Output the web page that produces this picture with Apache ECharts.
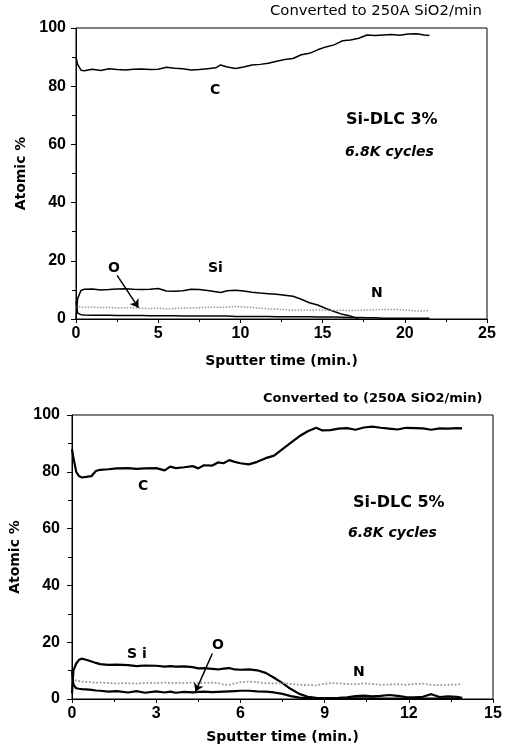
<!DOCTYPE html>
<html>
<head>
<meta charset="utf-8">
<script src="https://cdn.jsdelivr.net/npm/echarts@6/dist/echarts.min.js"></script>
<style>
  html, body { margin: 0; padding: 0; background: #fff; }
  #chart { width: 507px; height: 747px; }
</style>
</head>
<body>
<div id="chart"></div>
<script>
// top panel: Si-DLC 3%
var time3 = [0, 0.1, 0.3, 0.5, 1, 1.5, 2, 2.5, 3, 3.5, 4, 4.5, 5, 5.5, 6, 6.5, 7, 7.5, 8, 8.5,
             8.8, 9.2, 9.7, 10.2, 10.7, 11.2, 11.7, 12.2, 12.7, 13.2, 13.7, 14.2, 14.7, 15.2, 15.7,
             16.2, 16.7, 17.2, 17.7, 18.2, 18.7, 19.2, 19.7, 20.2, 20.7, 21.2, 21.5];
var c3 = [90, 87.5, 85.5, 85.3, 85.8, 85.4, 86, 85.7, 85.6, 85.8, 85.9, 85.7, 85.8, 86.5, 86.2, 86, 85.6, 85.7, 86, 86.3,
          87.3, 86.6, 86.1, 86.6, 87.3, 87.5, 87.9, 88.6, 89.2, 89.5, 90.8, 91.3, 92.5, 93.5, 94.2,
          95.6, 95.9, 96.5, 97.6, 97.4, 97.6, 97.8, 97.5, 97.9, 98, 97.6, 97.4];
var si3 = [0, 7, 9.8, 10.2, 10.3, 10, 10.1, 10.3, 10.4, 10.2, 10.1, 10.2, 10.5, 9.6, 9.5, 9.7, 10.2, 10.1, 9.8, 9.4,
           9.1, 9.7, 9.9, 9.6, 9.2, 8.9, 8.7, 8.5, 8.2, 7.8, 6.8, 5.6, 4.8, 3.6, 2.6,
           1.6, 1.0, 0.1, null, null, null, null, null, null, null, null, null];
var n3 = [4.5, 4.2, 4.1, 4, 4.1, 3.9, 4, 3.8, 3.9, 3.8, 3.7, 3.6, 3.7, 3.5, 3.6, 3.7, 3.8, 3.9, 4.0, 4.1,
          4.0, 4.1, 4.3, 4.1, 4.0, 3.7, 3.5, 3.4, 3.2, 3.0, 3.1, 3.0, 3.1, 3.0, 2.9,
          3.0, 2.9, 3.0, 3.1, 3.2, 3.3, 3.3, 3.2, 3.0, 2.7, 2.8, 2.9];
var o3 = [6, 2, 1.5, 1.4, 1.3, 1.3, 1.3, 1.2, 1.2, 1.2, 1.2, 1.1, 1.1, 1.1, 1.1, 1.0, 1.0, 1.0, 1.0, 1.0,
          1.0, 1.0, 0.9, 0.9, 0.9, 0.9, 0.9, 0.8, 0.8, 0.8, 0.8, 0.8, 0.7, 0.7, 0.7,
          0.6, 0.5, 0.5, 0.4, 0.4, 0.3, 0.3, 0.3, 0.3, 0.3, 0.3, 0.3];

// bottom panel: Si-DLC 5%
var time5 = [0, 0.05, 0.15, 0.25, 0.35, 0.5, 0.7, 0.85, 1, 1.3, 1.6, 2, 2.3, 2.6, 3, 3.3, 3.5, 3.7, 4, 4.3,
             4.5, 4.7, 5, 5.2, 5.4, 5.6, 5.8, 6, 6.3, 6.6, 6.9, 7.2, 7.5, 7.8, 8.1, 8.4, 8.7, 8.9,
             9.2, 9.5, 9.8, 10.1, 10.4, 10.7, 11, 11.3, 11.6, 11.9, 12.2, 12.5, 12.8, 13.1, 13.4, 13.7, 13.9];
var c5 = [88, 85, 80, 78.5, 78, 78.2, 78.5, 80.3, 80.7, 80.9, 81.2, 81.3, 81, 81.2, 81.3, 80.5, 81.8, 81.3, 81.6, 82,
          81.2, 82.3, 82.2, 83.3, 83, 84.1, 83.5, 83, 82.6, 83.5, 84.8, 85.7, 88, 90.3, 92.5, 94.3, 95.5, 94.6,
          94.7, 95.2, 95.4, 94.8, 95.6, 95.9, 95.5, 95.2, 94.9, 95.5, 95.4, 95.3, 94.8, 95.3, 95.2, 95.4, 95.3];
var si5 = [2, 10, 12.5, 13.8, 14.2, 13.8, 13.2, 12.7, 12.3, 12, 12.1, 11.9, 11.6, 11.8, 11.7, 11.4, 11.6, 11.4, 11.5, 11.2,
           10.8, 10.9, 10.6, 10.4, 10.7, 10.9, 10.4, 10.3, 10.4, 10.1, 9.2, 7.5, 5.6, 3.5, 1.8, 0.8, 0.4, 0.3,
           0.3, 0.4, 0.6, 1.0, 1.2, 0.9, 1.1, 1.4, 1.1, 0.7, 0.6, 0.8, 1.7, 0.7, 0.9, 0.8, 0.4];
var n5 = [7.5, 7, 6.5, 6.3, 6.1, 6, 5.9, 5.7, 5.8, 5.6, 5.5, 5.6, 5.4, 5.7, 5.6, 5.8, 5.6, 5.7, 5.6, 5.8,
          5.7, 5.6, 5.8, 5.6, 5.1, 5.0, 5.5, 5.9, 6.1, 5.9, 5.6, 5.5, 5.7, 5.3, 5.0, 4.9, 4.8, 5.2,
          5.6, 5.5, 5.3, 5.2, 5.5, 5.3, 5.0, 5.1, 5.2, 5.0, 5.3, 5.4, 5.0, 4.9, 5.0, 5.1, 5.3];
var o5 = [10, 5, 3.8, 3.6, 3.5, 3.4, 3.2, 3.0, 2.9, 2.6, 2.8, 2.3, 2.8, 2.2, 2.7, 2.3, 2.6, 2.2, 2.5, 2.3,
          2.5, 2.6, 2.4, 2.5, 2.6, 2.7, 2.8, 2.9, 2.9, 2.7, 2.6, 2.3, 1.8, 1.0, 0.5, 0.3, 0.2, 0.2,
          0.2, 0.2, 0.2, 0.2, 0.2, 0.2, 0.1, 0.1, 0.1, 0.1, 0.1, 0.1, 0.1, 0.1, 0.1, 0.1, 0.1];

// arrows from the "O" labels, in data units
var arrow3 = [[2.5, 15], [3.8, 3.9]];
var arrow5 = [[5.0, 16], [4.4, 2.6]];

function pairs(t, v) {
    var out = [];
    for (var i = 0; i < t.length; i++) {
        out.push([t[i], v[i]]);
    }
    return out;
}

var FONT = 'Liberation Sans';
var WIDE = 'DejaVu Sans';
var tickLabel = { color: '#000', fontFamily: FONT, fontWeight: 'bold', fontSize: 16 };
var axisName = { color: '#000', fontFamily: WIDE, fontWeight: 'bold', fontSize: 14 };

function xAxisFor(idx, max, interval, gap) {
    return {
        type: 'value', gridIndex: idx, min: 0, max: max, interval: interval,
        name: 'Sputter time (min.)', nameLocation: 'middle', nameGap: gap,
        nameTextStyle: axisName,
        axisLine: { lineStyle: { color: '#000', width: 1 } },
        axisTick: { length: 4, lineStyle: { color: '#000' } },
        minorTick: { show: true, splitNumber: 2, length: 3, lineStyle: { color: '#000' } },
        splitLine: { show: false },
        axisLabel: Object.assign({ margin: 7 }, tickLabel)
    };
}
function yAxisFor(idx, margin, gap) {
    return {
        type: 'value', gridIndex: idx, min: 0, max: 100, interval: 20,
        name: 'Atomic %', nameLocation: 'middle', nameGap: gap,
        nameTextStyle: axisName,
        axisLine: { lineStyle: { color: '#000', width: 1 } },
        axisTick: { length: 5, lineStyle: { color: '#000' } },
        minorTick: { show: true, splitNumber: 2, length: 4, lineStyle: { color: '#000' } },
        splitLine: { show: false },
        axisLabel: Object.assign({ margin: margin }, tickLabel)
    };
}
function lineSeries(idx, name, data, width, color, type) {
    return {
        name: name, type: 'line', xAxisIndex: idx, yAxisIndex: idx,
        data: data, showSymbol: false, smooth: false, connectNulls: false,
        lineStyle: { color: color || '#000', width: width, type: type || 'solid' },
        silent: true, animation: false
    };
}
function arrowLine(a) {
    return {
        silent: true, symbol: ['none', 'arrow'], symbolSize: 8,
        label: { show: false },
        lineStyle: { color: '#000', width: 1.5, type: 'solid' },
        data: [[{ coord: a[0] }, { coord: a[1] }]]
    };
}
function txt(x, y, s, font) {
    return {
        type: 'text', left: x, top: y,
        style: { text: s, fill: '#000', font: font }
    };
}
var LBL = 'bold 14px "' + WIDE + '"';

var chart = echarts.init(document.getElementById('chart'));

var sO3 = lineSeries(0, 'O', pairs(time3, o3), 1.5);
sO3.markLine = arrowLine(arrow3);
var sO5 = lineSeries(1, 'O', pairs(time5, o5), 2.2);
sO5.markLine = arrowLine(arrow5);

var option = {
    backgroundColor: '#fff',
    animation: false,
    grid: [
        { left: 76, top: 28, width: 411, height: 291, show: true, borderColor: '#000', borderWidth: 1 },
        { left: 72, top: 415, width: 421, height: 284, show: true, borderColor: '#000', borderWidth: 1 }
    ],
    xAxis: [xAxisFor(0, 25, 5, 35), xAxisFor(1, 15, 3, 31)],
    yAxis: [yAxisFor(0, 10, 46), yAxisFor(1, 12, 48)],
    series: [
        lineSeries(0, 'C', pairs(time3, c3), 1.5),
        lineSeries(0, 'Si', pairs(time3, si3), 1.5),
        lineSeries(0, 'N', pairs(time3, n3), 1.5, '#9a9a9a', 'dotted'),
        sO3,
        lineSeries(1, 'C', pairs(time5, c5), 2.2),
        lineSeries(1, 'Si', pairs(time5, si5), 2.2),
        lineSeries(1, 'N', pairs(time5, n5), 1.8, '#9a9a9a', 'dotted'),
        sO5
    ],
    graphic: [
        txt(270, 4, 'Converted to 250A SiO2/min', 'normal 14.8px "' + WIDE + '"'),
        txt(210, 83, 'C', LBL),
        txt(346, 112, 'Si-DLC 3%', 'bold 16px "' + WIDE + '"'),
        txt(345, 145, '6.8K cycles', 'italic bold 14px "' + WIDE + '"'),
        txt(108, 261, 'O', LBL),
        txt(208, 261, 'Si', LBL),
        txt(371, 286, 'N', LBL),

        txt(263, 392, 'Converted to (250A SiO2/min)', 'bold 13px "' + WIDE + '"'),
        txt(138, 479, 'C', LBL),
        txt(353, 495, 'Si-DLC 5%', 'bold 16px "' + WIDE + '"'),
        txt(348, 526, '6.8K cycles', 'italic bold 14px "' + WIDE + '"'),
        txt(127, 647, 'S i', LBL),
        txt(212, 638, 'O', LBL),
        txt(353, 665, 'N', LBL)
    ]
};
chart.setOption(option);
</script>
</body>
</html>
